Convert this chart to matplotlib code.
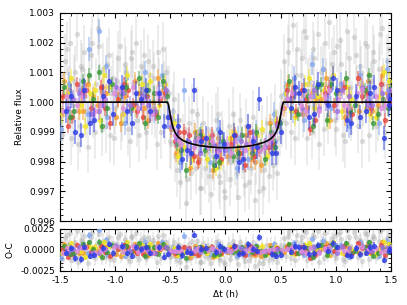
import numpy as np
import matplotlib
matplotlib.use('Agg')
import matplotlib.pyplot as plt
from matplotlib.ticker import MultipleLocator, FormatStrFormatter

# transit model (time in h, flux offset in ppm)
model_t = [-1.5, -0.525, -0.515, -0.505, -0.495, -0.485, -0.475, -0.46, -0.44, -0.42, -0.39,
           -0.35, -0.30, -0.24, -0.16, -0.08, 0.0, 0.08, 0.16, 0.24, 0.30, 0.35, 0.39, 0.42,
           0.44, 0.46, 0.475, 0.485, 0.495, 0.505, 0.515, 0.525, 1.5]
model_f = [0, 0, -120, -330, -540, -720, -860, -1000, -1120, -1200, -1280, -1350, -1410,
           -1460, -1500, -1525, -1535, -1525, -1500, -1460, -1410, -1350, -1280, -1200, -1120,
           -1000, -860, -720, -540, -330, -120, 0, 0]

# light curves, flux offset in ppm
gray_t = [-1.49, -1.47, -1.44, -1.42, -1.40, -1.37, -1.35, -1.32, -1.30, -1.27, -1.25, -1.22,
          -1.20, -1.17, -1.15, -1.12, -1.10, -1.07, -1.05, -1.02, -1.00, -0.97, -0.95, -0.92,
          -0.90, -0.87, -0.85, -0.82, -0.80, -0.77, -0.75, -0.72, -0.70, -0.67, -0.65, -0.62,
          -0.60, -0.57, -0.55, -0.53,
          -0.51, -0.49, -0.47, -0.44, -0.42, -0.40, -0.37, -0.35, -0.32, -0.30, -0.27, -0.25,
          -0.22, -0.20, -0.17, -0.15, -0.12, -0.10, -0.07, -0.05, -0.02, 0.00, 0.03, 0.05,
          0.08, 0.10, 0.13, 0.15, 0.18, 0.20, 0.23, 0.25, 0.28, 0.30, 0.33, 0.35, 0.38, 0.40,
          0.43, 0.45, 0.48, 0.50,
          0.53, 0.55, 0.58, 0.60, 0.63, 0.65, 0.68, 0.70, 0.73, 0.75, 0.78, 0.80, 0.83, 0.85,
          0.88, 0.90, 0.93, 0.95, 0.98, 1.00, 1.03, 1.05, 1.08, 1.10, 1.13, 1.15, 1.18, 1.20,
          1.23, 1.25, 1.28, 1.30, 1.33, 1.35, 1.38, 1.40, 1.43, 1.45, 1.48,
          -1.48, -1.455, -1.43, -1.41, -1.385, -1.36, -1.335, -1.31, -1.285, -1.26, -1.235,
          -1.21, -1.185, -1.16, -1.135, -1.11, -1.085, -1.06, -1.035, -1.01, -0.985, -0.96,
          -0.935, -0.91, -0.885, -0.86, -0.835, -0.81, -0.785, -0.76, -0.735, -0.71, -0.685,
          -0.66, -0.635, -0.61, -0.585, -0.56, -0.54,
          -0.50, -0.48, -0.455, -0.43, -0.41, -0.385, -0.36, -0.335, -0.31, -0.285, -0.26,
          -0.235, -0.21, -0.185, -0.16, -0.135, -0.11, -0.085, -0.06, -0.035, -0.01, 0.015,
          0.04, 0.065, 0.09, 0.115, 0.14, 0.165, 0.19, 0.215, 0.24, 0.265, 0.29, 0.315, 0.34,
          0.365, 0.39, 0.415, 0.44, 0.465, 0.49, 0.51,
          0.54, 0.565, 0.59, 0.615, 0.64, 0.665, 0.69, 0.715, 0.74, 0.765, 0.79, 0.815, 0.84,
          0.865, 0.89, 0.915, 0.94, 0.965, 0.99, 1.015, 1.04, 1.065, 1.09, 1.115, 1.14, 1.165,
          1.19, 1.215, 1.24, 1.265, 1.29, 1.315, 1.34, 1.365, 1.39, 1.415, 1.44, 1.465, 1.49]
gray_f = [900, -400, 1800, 300, -1200, 700, 2300, -800, 1100, 200, -1500, 1600,
          -300, 600, 1900, -900, 100, 1300, -1100, 800, -200, 1500, -700, 400,
          1000, -1300, 1700, 0, -600, 1200, 500, -1000, 1400, -200, 800, -1400,
          600, 1800, -500, 300,
          300, -1400, 100, -2300, -600, -2000, -900, -2600, -1800, -300, -2200, -1100,
          -2900, -700, -1900, -2500, -1000, -2100, -400, -2700, -1500, -3200, -800, -2000,
          -1200, -2400, -600, -1700, -2800, -1300, -2200, -500, -1900, -3000, -1000, -2300,
          -700, -1600, -2100, -300, -1200, 200,
          1400, -700, 2100, 400, -1200, 1800, 900, -300, 2200, 600, -1000, 1500, 200, -1400,
          1100, 2000, -500, 800, 1700, -900, 300, 1300, -1300, 2400, 500, -200, 1600, -800,
          1000, 100, 1900, -1100, 700, 1400, -400, 2300, 600, -1000, 1800,
          -1100, 1400, 200, 2000, -600, 1000, -1400, 1200, 1700, -300, 900,
          2000, -1000, 2500, 400, 1100, -800, 1600, 300, -1200, 700, 1900,
          -400, 1300, -900, 1500, 600, 2000, -1100, 300, 1600, -700, 900,
          1200, -300, 1700, -1000, 500, 1000,
          -1300, -300, -1800, -600, -2700, -1300, -3400, -700, -2400, -1500, -400,
          -2900, -1700, -2200, -900, -3100, -1800, -600, -2500, -1200, -3000, -1800,
          -2600, -400, -1900, -3200, -1100, -2300, -800, -2700, -1600, -3300, -900, -2000, -2900,
          -1400, -2500, -600, -1700, -2400, -900, -600,
          500, 1700, -1000, 2600, 900, -400, 1500, 2400, -1200, 700, 1800, -300, 2300,
          1000, -900, 600, 2700, 1300, -600, 1900, 2100, -1100, 800, 1500, -400, 2200,
          300, 1200, -1300, 2000, 900, 500, 1700, -800, 1100, 2500, -200, 1400, 600]

red_t = [-1.47, -1.39, -1.30, -1.22, -1.13, -1.05, -0.97, -0.88, -0.80, -0.71, -0.63, -0.55,
         -0.46, -0.38, -0.29, -0.21, -0.12, -0.04, 0.05, 0.13, 0.22, 0.30, 0.39, 0.47,
         0.56, 0.64, 0.73, 0.81, 0.90, 0.98, 1.07, 1.15, 1.24, 1.32, 1.41, 1.49,
         -1.43, -1.26, -1.09, -0.92, -0.75, -0.59, -0.42, -0.25, -0.08, 0.09, 0.26, 0.43,
         0.60, 0.77, 0.94, 1.11, 1.28, 1.45, -1.35, -0.84, -0.33, 0.18, 0.69, 1.20]
red_f = [200, -500, 300, -200, 500, -700, 100, 400, -300, 200, -400, 300,
         -1300, -1000, -1800, -1200, -1100, -1900, -1400, -1700, -1000, -1600, -1500, -700,
         400, -300, 100, -600, 300, -100, 500, -400, 200, -200, 600, 0,
         -800, 400, -200, 600, -500, 100, -1000, -2000, -1600, -1100, -1800, -1400,
         200, -900, 500, -300, 300, -600, 600, -100, -1100, -2100, 400, 800]

orange_t = [-1.50, -1.42, -1.33, -1.25, -1.16, -1.08, -0.99, -0.91, -0.82, -0.74, -0.66, -0.57,
            -0.49, -0.41, -0.32, -0.24, -0.15, -0.07, 0.02, 0.10, 0.19, 0.27, 0.36, 0.44,
            0.53, 0.61, 0.70, 0.78, 0.87, 0.95, 1.04, 1.12, 1.21, 1.29, 1.38, 1.46,
            -1.46, -1.29, -1.12, -0.95, -0.78, -0.61, -0.45, -0.28, -0.11, 0.06, 0.23, 0.40,
            0.57, 0.74, 0.91, 1.08, 1.25, 1.42, -1.20, -0.70, -0.20, 0.32, 0.82, 1.33]
orange_f = [100, 400, -300, 600, -100, 300, -500, 200, 700, -200, 0, 400,
            -900, -1600, -2200, -1900, -1300, -1200, -1800, -1600, -1100, -2000, -1500, -1300,
            -200, 500, -400, 300, 100, -600, 400, 200, -300, 700, -100, 300,
            700, -300, 500, -700, 300, 800, -1700, -1000, -2300, -1200, -1900, -700,
            600, -200, 800, -500, 400, 900, 200, -600, -1200, -2100, 100, -300]

yellow_t = [-1.48, -1.40, -1.31, -1.23, -1.14, -1.06, -0.97, -0.89, -0.81, -0.72, -0.64, -0.55,
            -0.47, -0.38, -0.30, -0.21, -0.13, -0.04, 0.04, 0.12, 0.21, 0.29, 0.38, 0.46,
            0.55, 0.63, 0.72, 0.80, 0.89, 0.97, 1.06, 1.14, 1.23, 1.31, 1.40, 1.48,
            -1.44, -1.27, -1.10, -0.93, -0.76, -0.60, -0.43, -0.26, -0.09, 0.08, 0.25, 0.42,
            0.59, 0.76, 0.93, 1.10, 1.27, 1.44, -1.18, -0.68, -0.17, 0.33, 0.84, 1.36]
yellow_f = [-400, 800, -100, 300, -600, 500, 100, 900, -200, 400, -300, 600,
            -700, -1500, -1900, -1100, -1400, -2000, -1200, -1700, -1500, -1100, -1800, -600,
            300, -500, 600, -200, 400, 900, -300, 100, 500, -400, 200, 700,
            300, -800, 900, -400, 600, -100, -1800, -1200, -2200, -1000, -1600, -1300,
            -300, 800, -600, 500, -200, 1000, 400, 700, -1900, -900, 200, -500]

green_t = [-1.46, -1.37, -1.29, -1.20, -1.12, -1.03, -0.95, -0.86, -0.78, -0.70, -0.61, -0.53,
           -0.44, -0.36, -0.27, -0.19, -0.10, -0.02, 0.07, 0.15, 0.24, 0.32, 0.41, 0.49,
           0.58, 0.66, 0.75, 0.83, 0.92, 1.00, 1.09, 1.17, 1.26, 1.34, 1.43, 1.50,
           -1.41, -1.24, -1.07, -0.90, -0.73, -0.57, -0.40, -0.23, -0.06, 0.11, 0.28, 0.45,
           0.62, 0.79, 0.96, 1.13, 1.30, 1.47, -1.15, -0.65, -0.14, 0.36, 0.87, 1.38]
green_f = [500, -300, 700, 100, -800, 600, 300, -200, 800, 400, -500, 200,
           -1400, -2300, -1200, -1600, -2100, -1300, -1800, -1100, -1700, -1500, -1000, -700,
           700, -400, 200, 500, -600, 300, 800, -100, 400, -700, 100, 500,
           -500, 900, -200, 500, -700, 700, -1600, -1100, -2000, -1700, -1000, -1500,
           300, -800, 600, -300, 900, -200, 1000, 300, -1400, -1900, 600, -400]

blue_t = [-1.45, -1.36, -1.28, -1.19, -1.11, -1.02, -0.94, -0.85, -0.77, -0.68, -0.60, -0.52,
          -0.43, -0.35, -0.29, -0.18, -0.09, -0.01, 0.08, 0.16, 0.25, 0.30, 0.42, 0.50,
          0.59, 0.67, 0.76, 0.84, 0.93, 1.01, 1.10, 1.18, 1.27, 1.35, 1.44, 1.49,
          -1.40, -1.23, -1.06, -0.89, -0.72, -0.56, -0.39, -0.22, -0.05, 0.12, 0.29, 0.46,
          0.63, 0.80, 0.97, 1.14, 1.31, 1.48, -1.31, -0.81, -0.31, 0.20, 0.71, 1.22]
blue_f = [-300, -1000, 400, -600, 200, -400, 500, -700, 100, -300, 300, -500,
          -800, -1600, 400, -1200, -1800, -1400, -1100, -1900, -1300, 100, -1700, -1000,
          -200, 300, -500, 600, -100, 400, -600, 200, -300, 500, -1200, 100,
          200, -700, 700, -300, 400, -800, -1900, -1300, -1000, -2000, -1500, -1700,
          500, -400, 800, -700, 300, -100, -1100, 300, -1700, -800, 400, -500]

lightblue_t = [-1.49, -1.41, -1.32, -1.24, -1.15, -1.07, -0.98, -0.90, -0.81, -0.73, -0.65, -0.56,
               -0.48, -0.38, -0.31, -0.22, -0.14, -0.05, 0.03, 0.11, 0.20, 0.28, 0.37, 0.45,
               0.54, 0.62, 0.71, 0.79, 0.88, 0.96, 1.05, 1.13, 1.22, 1.30, 1.39, 1.47,
               -1.42, -1.25, -1.08, -0.91, -0.74, -0.58, -0.41, -0.24, -0.07, 0.10, 0.27, 0.44,
               0.61, 0.78, 0.95, 1.12, 1.29, 1.46]
lightblue_f = [-900, 300, 400, 1800, 2400, -500, 200, 800, -100, 1000, -300, 500,
               -600, 400, -1700, -1100, -2000, -1400, -1600, -1200, -1900, -1000, -1500, -1300,
               300, 800, -600, 200, 1100, -200, 600, -400, 900, 0, -700, 400,
               600, -400, 1200, -700, 300, 900, -2000, -1300, -900, -2200, -1700, -400,
               -300, 1300, 400, -800, 500, 1100]

orchid_t = [-1.44, -1.35, -1.27, -1.18, -1.10, -1.01, -0.93, -0.84, -0.76, -0.67, -0.59, -0.50,
            -0.42, -0.33, -0.25, -0.16, -0.08, 0.01, 0.09, 0.18, 0.26, 0.35, 0.43, 0.51,
            0.60, 0.68, 0.77, 0.85, 0.94, 1.02, 1.11, 1.19, 1.28, 1.36, 1.45, 1.50,
            -1.47, -1.30, -1.13, -0.96, -0.79, -0.62, -0.46, -0.29, -0.12, 0.05, 0.22, 0.39,
            0.56, 0.73, 0.90, 1.07, 1.24, 1.41, -0.40, 0.31]
orchid_f = [200, -100, 400, -300, 100, 300, -200, 500, 0, -400, 200, -500,
            -1300, -1600, -1200, -1500, -1700, -1400, -1300, -1600, -1200, -1500, -1100, -200,
            300, -100, 200, -300, 400, 100, -200, 300, 0, 200, -100, 400,
            -300, 200, -100, 400, -200, 300, -1100, -1500, -1300, -1700, -1400, -1300,
            100, -300, 200, -100, 400, -200, -1400, -1600]

purple_t = [-1.43, -1.33, -1.21, -1.09, -0.99, -0.87, -0.75, -0.64, -0.54, -0.45, -0.34, -0.23,
            -0.11, 0.00, 0.14, 0.24, 0.36, 0.47, 0.57, 0.69, 0.80, 0.91, 1.01, 1.12, 1.24,
            1.33, 1.42,
            -1.38, -1.15, -0.93, -0.70, -0.49, -0.28, -0.06, 0.19, 0.41, 0.63, 0.85, 1.06,
            1.29, 1.47]
purple_f = [-200, 300, -400, 100, 500, -100, 200, -300, 400, -1200, -1300, -1700,
            -1400, -1600, -1300, -1500, -1500, -800, 100, -200, 400, 0, -300, 200, 500,
            -100, 300,
            100, -300, 300, -100, -800, -1300, -1600, -1400, -1300, 300, -200, 400,
            -100, 200]

# error bar half-widths in ppm
errors = {'gray': 900, 'red': 250, 'orange': 300, 'yellow': 300, 'green': 250,
          'blue': 400, 'lightblue': 400, 'orchid': 250, 'purple': 300}

series = [
    (gray_t, gray_f, '#a8a8a8', errors['gray']),
    (orange_t, orange_f, '#f39a2c', errors['orange']),
    (lightblue_t, lightblue_f, '#84a8ee', errors['lightblue']),
    (yellow_t, yellow_f, '#f0e41e', errors['yellow']),
    (red_t, red_f, '#e8453c', errors['red']),
    (green_t, green_f, '#3a983a', errors['green']),
    (purple_t, purple_f, '#9a70e0', errors['purple']),
    (orchid_t, orchid_f, '#dc8cdc', errors['orchid']),
    (blue_t, blue_f, '#2b3be4', errors['blue']),
]

plt.rcParams['font.size'] = 6.5

fig = plt.figure(figsize=(4.07, 3.05), dpi=100)
ax = fig.add_axes([0.1474, 0.2754, 0.8133, 0.682])
axr = fig.add_axes([0.1474, 0.1115, 0.8133, 0.1377])

mt = np.array(model_t)
mf = 1 + np.array(model_f) * 1e-6

for i, (t, f, c, e) in enumerate(series):
    t = np.array(t)
    flux = 1 + np.array(f) * 1e-6
    resid = flux - np.interp(t, mt, mf)
    a = 0.38 if i == 0 else 0.8
    ea = 0.28 if i == 0 else 0.6
    for a_, y in ((ax, flux), (axr, resid)):
        a_.errorbar(t, y, yerr=e * 1e-6, fmt='none', ecolor=c, elinewidth=1.1,
                    alpha=ea, zorder=1 + i)
        a_.plot(t, y, 'o', color=c, ms=3.8, mew=0, alpha=a, zorder=1 + i)

ax.plot(mt, mf, color='black', lw=1.2, zorder=20)

ax.set_xlim(-1.5, 1.5)
ax.set_ylim(0.996, 1.003)
ax.yaxis.set_major_locator(MultipleLocator(0.001))
ax.yaxis.set_minor_locator(MultipleLocator(0.0002))
ax.yaxis.set_major_formatter(FormatStrFormatter('%.3f'))
ax.set_ylabel('Relative flux')

axr.set_xlim(-1.5, 1.5)
axr.set_ylim(-0.0025, 0.0025)
axr.yaxis.set_major_locator(MultipleLocator(0.0025))
axr.yaxis.set_minor_locator(MultipleLocator(0.0005))
axr.yaxis.set_major_formatter(FormatStrFormatter('%.4f'))
axr.set_ylabel('O-C')
axr.set_xlabel('Δt (h)')

for a_ in (ax, axr):
    a_.xaxis.set_major_locator(MultipleLocator(0.5))
    a_.xaxis.set_minor_locator(MultipleLocator(0.1))
    a_.tick_params(which='both', direction='in', top=True, right=True)
    a_.tick_params(which='major', length=3.5)
    a_.tick_params(which='minor', length=2)
ax.tick_params(labelbottom=False)
axr.xaxis.set_major_formatter(FormatStrFormatter('%.1f'))

fig.savefig('out.png', dpi=100)
